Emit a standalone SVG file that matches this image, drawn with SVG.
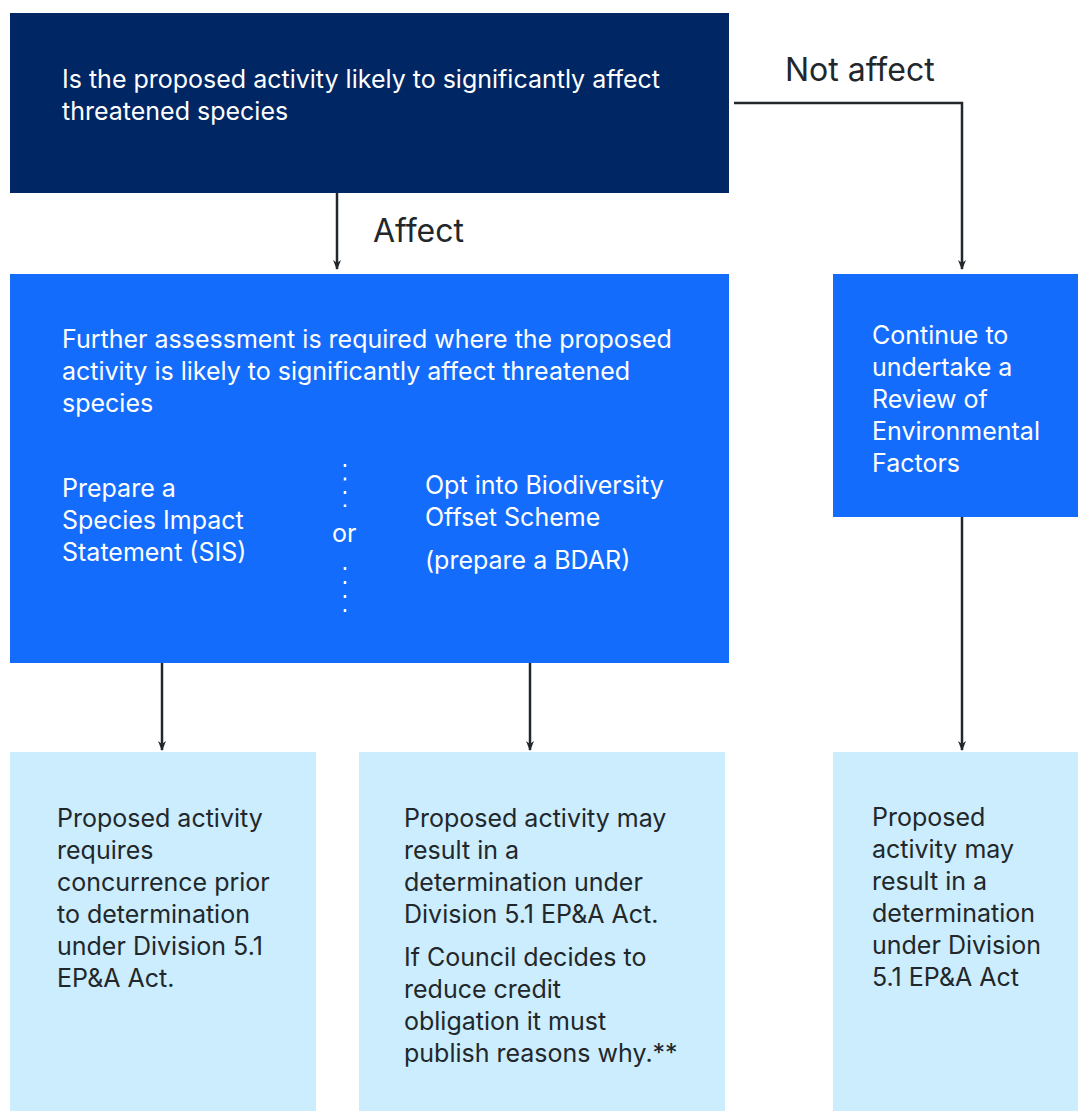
<svg xmlns="http://www.w3.org/2000/svg" width="1078" height="1111" viewBox="0 0 1078 1111">
<style>
text{font-family:Inter,"Liberation Sans","Noto Sans",sans-serif;font-size:25px}
.w{fill:#ffffff}
.d{fill:#22272b}
.lbl{fill:#22272b;font-size:32px}
.c{fill:none;stroke:#22272b;stroke-width:2.5}
</style>
<defs>
<marker id="ah" viewBox="0 0 10 8" refX="9" refY="4" markerWidth="10" markerHeight="8" markerUnits="userSpaceOnUse" orient="auto">
<path d="M0,0 L10,4 L0,8 L3,4 Z" fill="#22272b"/>
</marker>
</defs>
<rect width="1078" height="1111" fill="#ffffff"/>
<g id="connectors">
<line class="c" x1="337" y1="193" x2="337" y2="269" marker-end="url(#ah)"/>
<polyline class="c" points="734,103 962,103 962,269" marker-end="url(#ah)"/>
<line class="c" x1="162" y1="663" x2="162" y2="750" marker-end="url(#ah)"/>
<line class="c" x1="530" y1="663" x2="530" y2="750" marker-end="url(#ah)"/>
<line class="c" x1="962" y1="517" x2="962" y2="750" marker-end="url(#ah)"/>
<text class="lbl" x="785" y="81">Not affect</text>
<text class="lbl" x="373" y="242">Affect</text>
</g>
<g id="question">
<rect x="10" y="13" width="719" height="180" fill="#002664"/>
<text class="w" x="62" y="88">Is the proposed activity likely to significantly affect</text>
<text class="w" x="62" y="120">threatened species</text>
</g>
<g id="further-assessment">
<rect x="10" y="274" width="719" height="389" fill="#146cfd"/>
<text class="w" x="62" y="348">Further assessment is required where the proposed</text>
<text class="w" x="62" y="380">activity is likely to significantly affect threatened</text>
<text class="w" x="62" y="412">species</text>
<text class="w" x="62" y="497">Prepare a</text>
<text class="w" x="62" y="529">Species Impact</text>
<text class="w" x="62" y="561">Statement (SIS)</text>
<line x1="345" y1="464" x2="345" y2="507" stroke="#ffffff" stroke-width="2.5" stroke-dasharray="3,10.5"/>
<text class="w" x="332" y="542">or</text>
<line x1="345" y1="567" x2="345" y2="612" stroke="#ffffff" stroke-width="2.5" stroke-dasharray="3,11"/>
<text class="w" x="425" y="494">Opt into Biodiversity</text>
<text class="w" x="425" y="526">Offset Scheme</text>
<text class="w" x="425" y="569">(prepare a BDAR)</text>
</g>
<g id="ref">
<rect x="833" y="274" width="245" height="243" fill="#146cfd"/>
<text class="w" x="872" y="344">Continue to</text>
<text class="w" x="872" y="376">undertake a</text>
<text class="w" x="872" y="408">Review of</text>
<text class="w" x="872" y="440">Environmental</text>
<text class="w" x="872" y="472">Factors</text>
</g>
<g id="outcome-sis">
<rect x="10" y="752" width="306" height="359" fill="#cbedfd"/>
<text class="d" x="57" y="827">Proposed activity</text>
<text class="d" x="57" y="859">requires</text>
<text class="d" x="57" y="891">concurrence prior</text>
<text class="d" x="57" y="923">to determination</text>
<text class="d" x="57" y="955">under Division 5.1</text>
<text class="d" x="57" y="987">EP&amp;A Act.</text>
</g>
<g id="outcome-bdar">
<rect x="359" y="752" width="366" height="359" fill="#cbedfd"/>
<text class="d" x="404" y="827">Proposed activity may</text>
<text class="d" x="404" y="859">result in a</text>
<text class="d" x="404" y="891">determination under</text>
<text class="d" x="404" y="923">Division 5.1 EP&amp;A Act.</text>
<text class="d" x="404" y="966">If Council decides to</text>
<text class="d" x="404" y="998">reduce credit</text>
<text class="d" x="404" y="1030">obligation it must</text>
<text class="d" x="404" y="1062">publish reasons why.**</text>
</g>
<g id="outcome-ref">
<rect x="833" y="752" width="245" height="359" fill="#cbedfd"/>
<text class="d" x="872" y="826">Proposed</text>
<text class="d" x="872" y="858">activity may</text>
<text class="d" x="872" y="890">result in a</text>
<text class="d" x="872" y="922">determination</text>
<text class="d" x="872" y="954">under Division</text>
<text class="d" x="872" y="986">5.1 EP&amp;A Act</text>
</g>
</svg>
